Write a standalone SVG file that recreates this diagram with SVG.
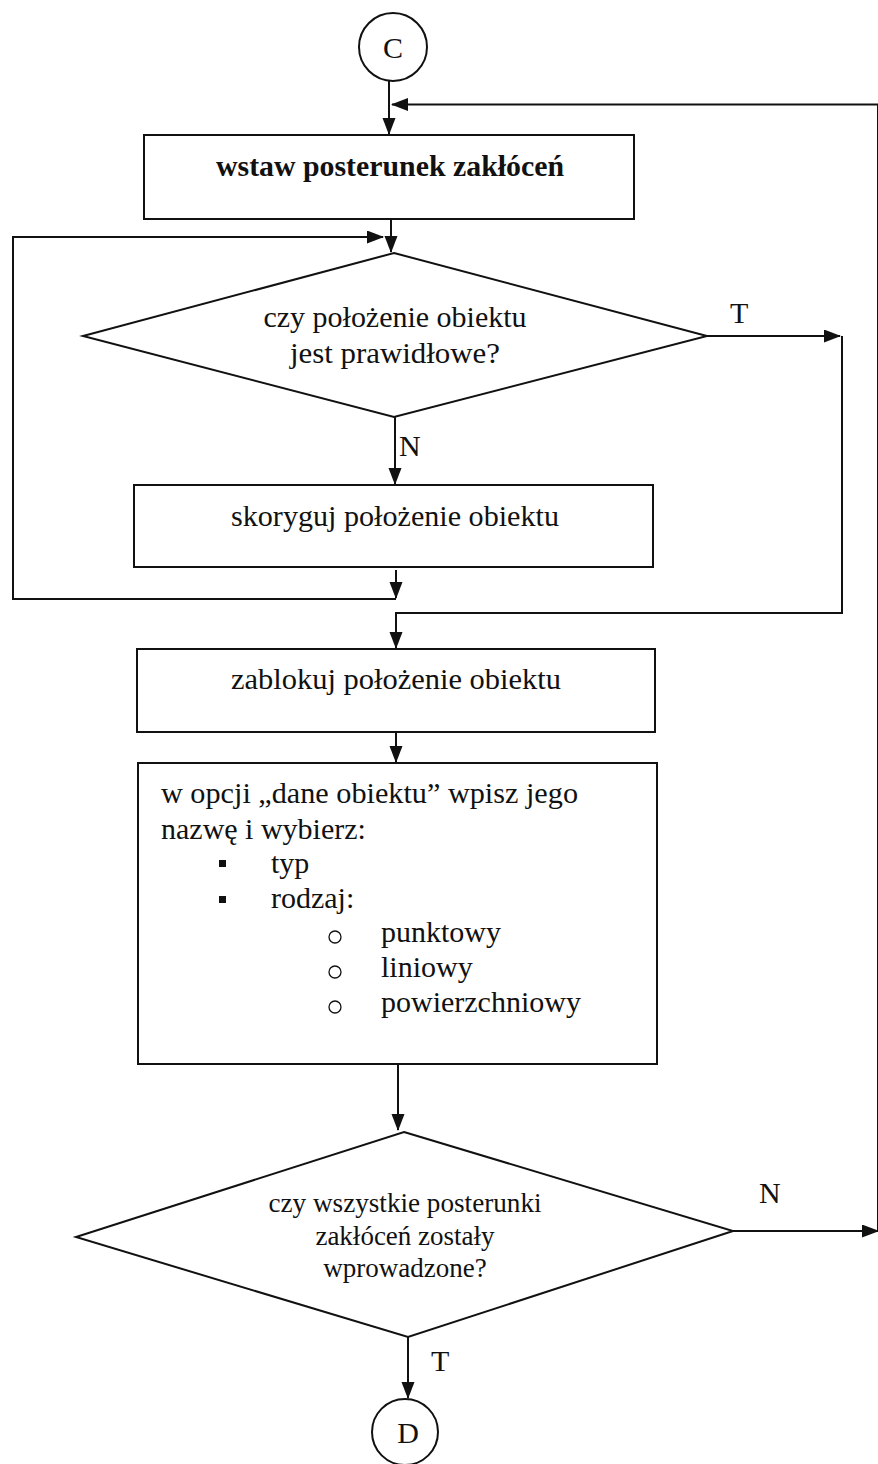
<svg xmlns="http://www.w3.org/2000/svg" width="878" height="1464" viewBox="0 0 878 1464">
<style>
.s{fill:none;stroke:#111;stroke-width:2}
.b{fill:#fff;stroke:#111;stroke-width:2}
.t{font-family:"Liberation Serif","Times New Roman",serif;font-size:30px;fill:#111}
.c{text-anchor:middle}
.bold{font-weight:bold}
.sm{font-size:27px}
</style>
<defs>
<marker id="ar" markerUnits="userSpaceOnUse" markerWidth="18" markerHeight="14" refX="16" refY="6.5" orient="auto">
<path d="M0,0 L17,6.5 L0,13 z" fill="#111"/>
</marker>
</defs>
<rect width="878" height="1464" fill="#fff"/>
<g id="connectors">
<path class="s" d="M389,81 V134" marker-end="url(#ar)"/>
<path class="s" d="M878,1231 V104.5 H392" marker-end="url(#ar)"/>
<path class="s" d="M391,219 V252" marker-end="url(#ar)"/>
<path class="s" d="M396,599 H13 V237 H383" marker-end="url(#ar)"/>
<path class="s" d="M395,417 V484" marker-end="url(#ar)"/>
<path class="s" d="M396,570 V598" marker-end="url(#ar)"/>
<path class="s" d="M707,336 H840" marker-end="url(#ar)"/>
<path class="s" d="M842,336 V613 H396 V648" marker-end="url(#ar)"/>
<path class="s" d="M396,732 V762" marker-end="url(#ar)"/>
<path class="s" d="M398,1064 V1130" marker-end="url(#ar)"/>
<path class="s" d="M733,1231 H878" marker-end="url(#ar)"/>
<path class="s" d="M408,1337 V1398" marker-end="url(#ar)"/>
<text class="t" x="730" y="323">T</text>
<text class="t" x="399" y="456">N</text>
<text class="t" x="759" y="1203">N</text>
<text class="t" x="431" y="1371">T</text>
</g>
<g id="start-c">
<circle class="b" cx="393" cy="47" r="34"/>
<text class="t c" x="393" y="58">C</text>
</g>
<g id="box-wstaw">
<rect class="b" x="144" y="135" width="490" height="84"/>
<text class="t c bold" x="390" y="176" textLength="348" lengthAdjust="spacingAndGlyphs">wstaw posterunek zakłóceń</text>
</g>
<g id="decision-1">
<polygon class="b" points="394,253 707,336 394,417 83,336"/>
<text class="t c" x="395" y="327" textLength="263" lengthAdjust="spacingAndGlyphs">czy położenie obiektu</text>
<text class="t c" x="395" y="363" textLength="210" lengthAdjust="spacingAndGlyphs">jest prawidłowe?</text>
</g>
<g id="box-skoryguj">
<rect class="b" x="134" y="485" width="519" height="82"/>
<text class="t c" x="395" y="526" textLength="328" lengthAdjust="spacingAndGlyphs">skoryguj położenie obiektu</text>
</g>
<g id="box-zablokuj">
<rect class="b" x="137" y="649" width="518" height="83"/>
<text class="t c" x="396" y="689" textLength="330" lengthAdjust="spacingAndGlyphs">zablokuj położenie obiektu</text>
</g>
<g id="box-dane">
<rect class="b" x="138" y="763" width="519" height="301"/>
<text class="t" x="161" y="803" textLength="417" lengthAdjust="spacingAndGlyphs">w opcji „dane obiektu” wpisz jego</text>
<text class="t" x="161" y="839">nazwę i wybierz:</text>
<rect x="219" y="860" width="7" height="7" fill="#111"/>
<text class="t" x="271" y="873">typ</text>
<rect x="219" y="896" width="7" height="7" fill="#111"/>
<text class="t" x="271" y="908">rodzaj:</text>
<circle cx="335" cy="937" r="6" fill="none" stroke="#111" stroke-width="1.3"/>
<text class="t" x="381" y="942">punktowy</text>
<circle cx="335" cy="972" r="6" fill="none" stroke="#111" stroke-width="1.3"/>
<text class="t" x="381" y="977">liniowy</text>
<circle cx="335" cy="1007" r="6" fill="none" stroke="#111" stroke-width="1.3"/>
<text class="t" x="381" y="1012">powierzchniowy</text>
</g>
<g id="decision-2">
<polygon class="b" points="404,1132 733,1231 408,1337 76,1237"/>
<text class="t c sm" x="405" y="1212" textLength="273" lengthAdjust="spacingAndGlyphs">czy wszystkie posterunki</text>
<text class="t c sm" x="405" y="1245">zakłóceń zostały</text>
<text class="t c sm" x="405" y="1277">wprowadzone?</text>
</g>
<g id="end-d">
<circle class="b" cx="405" cy="1432" r="33"/>
<text class="t c" x="408" y="1443">D</text>
</g>
</svg>
